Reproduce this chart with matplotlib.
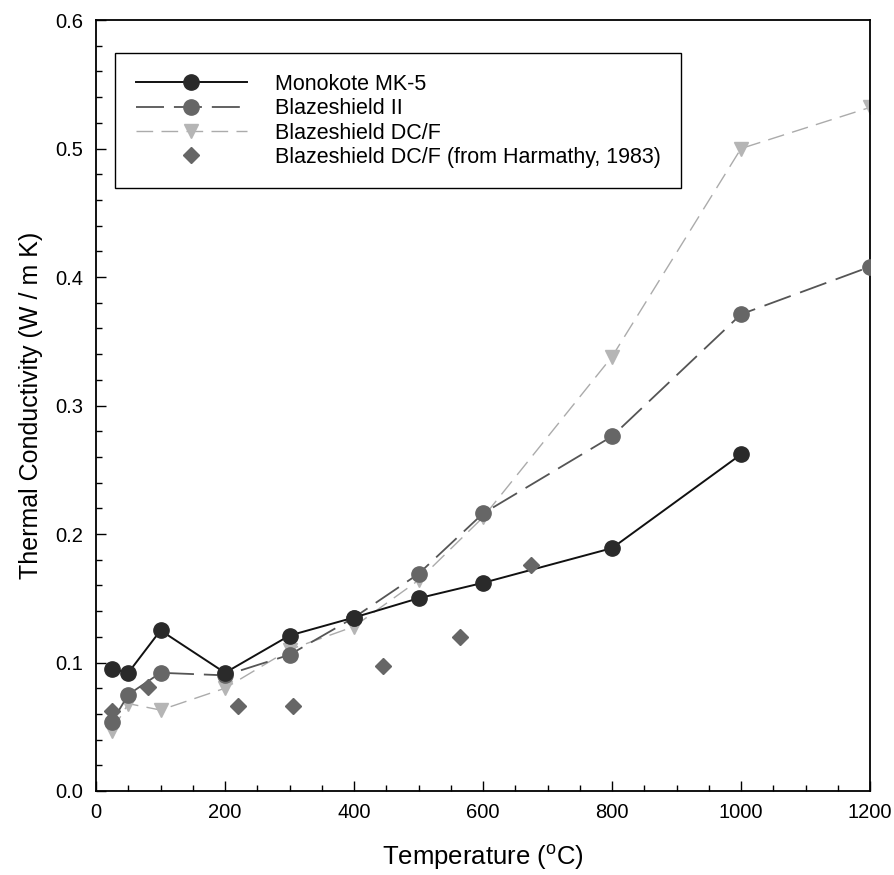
import matplotlib
matplotlib.use("Agg")
import matplotlib.pyplot as plt
from matplotlib.ticker import MultipleLocator, FormatStrFormatter

plt.rcParams['font.family'] = ['Liberation Sans', 'DejaVu Sans']

mk5_T = [25, 50, 100, 200, 300, 400, 500, 600, 800, 1000]
mk5_k = [0.095, 0.092, 0.125, 0.092, 0.121, 0.135, 0.150, 0.162, 0.189, 0.262]

b2_T = [25, 50, 100, 200, 300, 400, 500, 600, 800, 1000, 1200]
b2_k = [0.054, 0.075, 0.092, 0.090, 0.106, 0.135, 0.169, 0.216, 0.276, 0.371, 0.408]

dcf_T = [25, 50, 100, 200, 300, 400, 500, 600, 800, 1000, 1200]
dcf_k = [0.047, 0.068, 0.063, 0.080, 0.110, 0.128, 0.164, 0.213, 0.338, 0.500, 0.532]

harm_T = [25, 80, 220, 305, 445, 565, 675]
harm_k = [0.062, 0.081, 0.066, 0.066, 0.097, 0.120, 0.176]

fig = plt.figure(figsize=(8.95, 8.75), dpi=100)
ax = fig.add_axes([0.1073, 0.096, 0.8648, 0.8811])

ax.plot(mk5_T, mk5_k, color='#111111', lw=1.4, marker='o', ms=11,
        mfc='#2a2a2a', mec='#2a2a2a', label='Monokote MK-5', zorder=4)
ax.plot(b2_T, b2_k, color='#555555', lw=1.3, dashes=(15.5, 5.5), marker='o', ms=11,
        mfc='#666666', mec='#666666', label='Blazeshield II', zorder=3)
ax.plot(dcf_T, dcf_k, color='#ababab', lw=1.0, dashes=(12, 6), marker='v', ms=10,
        mfc='#b5b5b5', mec='#b5b5b5', label='Blazeshield DC/F', zorder=2)
ax.plot(harm_T, harm_k, ls='none', marker='D', ms=8.5,
        mfc='#666666', mec='#666666', label='Blazeshield DC/F (from Harmathy, 1983)', zorder=5)

ax.set_xlim(0, 1200)
ax.set_ylim(0, 0.6)
ax.xaxis.set_major_locator(MultipleLocator(200))
ax.xaxis.set_minor_locator(MultipleLocator(50))
ax.yaxis.set_major_locator(MultipleLocator(0.1))
ax.yaxis.set_minor_locator(MultipleLocator(0.02))
ax.yaxis.set_major_formatter(FormatStrFormatter('%.1f'))
ax.tick_params(which='both', direction='in', top=False, right=False, labelsize=14.5)
ax.tick_params(which='major', length=7, width=1)
ax.tick_params(which='minor', length=4, width=1)
ax.tick_params(axis='x', pad=9)
ax.tick_params(axis='y', pad=9)
for s in ax.spines.values():
    s.set_linewidth(1.3)

ax.set_xlabel('Temperature ($^{\\mathregular{o}}$C)', fontsize=18.5, labelpad=14)
ax.set_ylabel('Thermal Conductivity (W / m K)', fontsize=18, labelpad=9)

leg = ax.legend(loc='upper left', bbox_to_anchor=(0.025, 0.957), fontsize=15.5,
                handlelength=5.15, handletextpad=1.3, borderpad=0.95, labelspacing=0.16,
                borderaxespad=0, fancybox=False, framealpha=1, edgecolor='black')
leg.get_frame().set_linewidth(1.0)

fig.savefig('out.png', dpi=100)
